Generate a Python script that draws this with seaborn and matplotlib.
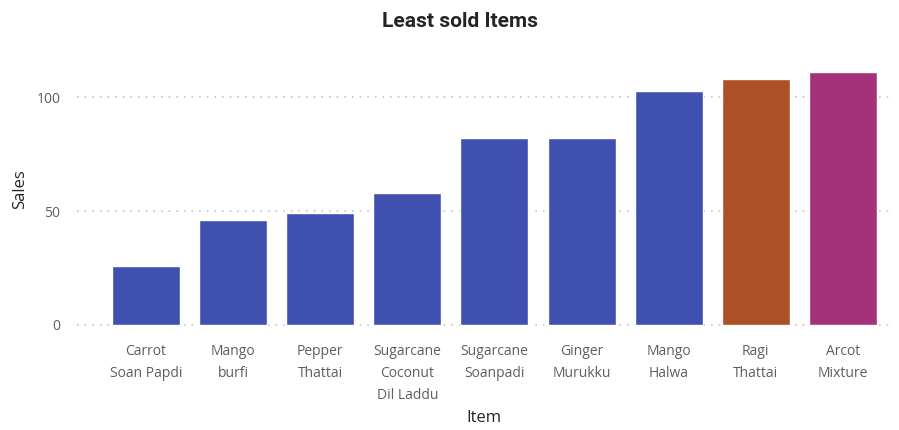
import matplotlib
matplotlib.use("Agg")
import matplotlib.pyplot as plt
import seaborn as sns
import pandas as pd

# data
items = ["Carrot\nSoan Papdi", "Mango\nburfi", "Pepper\nThattai",
         "Sugarcane\nCoconut\nDil Laddu", "Sugarcane\nSoanpadi", "Ginger\nMurukku",
         "Mango\nHalwa", "Ragi\nThattai", "Arcot\nMixture"]
sales = [26, 46, 49, 58, 82, 82, 103, 108, 111]
bar_colors = ["#4050B0"] * 7 + ["#AB5027", "#A4327A"]
y_ticks = [0, 50, 100]

df = pd.DataFrame({"Item": items, "Sales": sales})

sns.set_style("white")
plt.rcParams["font.family"] = ["Open Sans", "DejaVu Sans"]

fig = plt.figure(figsize=(8.99, 4.30), dpi=100)
ax = fig.add_axes([77 / 899, 1 - 326 / 430, 813 / 899, 274 / 430])

sns.barplot(data=df, x="Item", y="Sales", hue="Item", palette=bar_colors,
            legend=False, width=0.78, saturation=1, ax=ax)

ax.set_xlim(-0.79, 8.54)
ax.set_ylim(-0.5, 120)
ax.set_yticks(y_ticks)
ax.grid(axis="y", color="#bdbdbd", linestyle=(0, (1, 4)), linewidth=1.1)
ax.set_axisbelow(True)
for s in ax.spines.values():
    s.set_visible(False)

ax.tick_params(axis="x", length=0, pad=13, labelsize=10, labelcolor="#605E5C")
ax.tick_params(axis="y", length=0, pad=12, labelsize=10, labelcolor="#605E5C")
for lbl in ax.get_xticklabels():
    lbl.set_linespacing(1.65)

ax.set_xlabel("Item", fontsize=12, color="#252423", labelpad=5)
ax.set_ylabel("Sales", fontsize=12, color="#252423", labelpad=6)

fig.text(0.512, 0.951, "Least sold Items", ha="center", va="center",
         fontsize=15, fontweight="bold", color="#252423",
         family=["Roboto", "DejaVu Sans"])

fig.savefig("out.png", dpi=100)
